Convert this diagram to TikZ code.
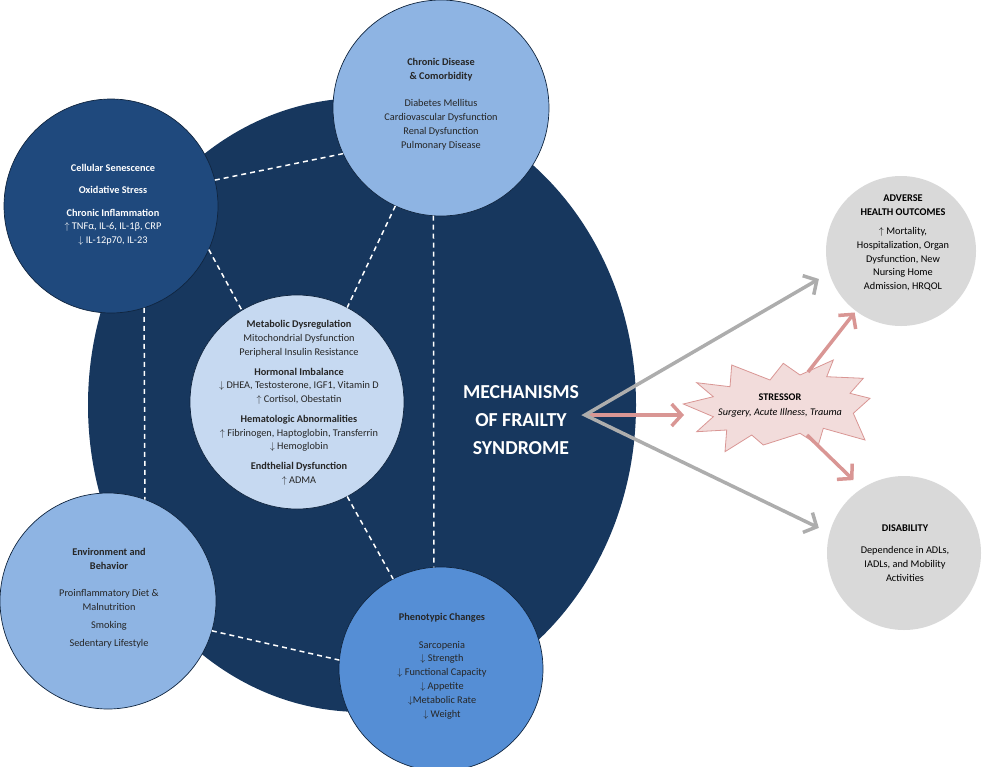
\documentclass[tikz,border=0pt]{standalone}
\usepackage{fontspec}
\setmainfont{Carlito}
\usetikzlibrary{arrows.meta}
\definecolor{bigblue}{HTML}{17375E}
\definecolor{deepblue}{HTML}{1F497D}
\definecolor{lightblue}{HTML}{8EB4E3}
\definecolor{paleblue}{HTML}{C6D9F1}
\definecolor{midblue}{HTML}{558ED5}
\definecolor{outgray}{HTML}{D9D9D9}
\definecolor{arrgray}{HTML}{ADADAD}
\definecolor{arrpink}{HTML}{D99694}
\definecolor{starfill}{HTML}{F2DCDB}
\definecolor{txtdark}{HTML}{262626}
\definecolor{rimblue}{HTML}{10253F}
\newcommand{\UA}{$\uparrow$\ }
\newcommand{\DA}{$\downarrow$\ }
\begin{document}
\begin{tikzpicture}[x=1pt,y=-1pt,
  bub/.style={circle,draw=rimblue,line width=0.7pt,inner sep=0pt,outer sep=0pt},
  txt/.style={align=center,inner sep=0pt,text=txtdark,font=\fontsize{10.3}{13.8}\selectfont},
  dashl/.style={draw=white,line width=1.5pt,dash pattern=on 5pt off 4pt},
  barbs/.style={line width=3.5pt,-{Straight Barb[length=10pt,width=22pt]}},
]
\useasboundingbox (0,0) rectangle (982,766);
% big ellipse
\fill[bigblue] (362,405) ellipse [x radius=274pt, y radius=307pt];
% circles
\node[bub,fill=deepblue,minimum size=214pt] (tl) at (111,206) {};
\node[bub,fill=lightblue,minimum size=216pt] (top) at (441,108) {};
\node[bub,fill=paleblue,minimum size=214pt] (cen) at (297,402) {};
\node[bub,fill=lightblue,minimum size=216pt] (bl) at (108,601) {};
\node[bub,fill=midblue,minimum size=204pt] (bot) at (441,669) {};
\node[circle,fill=outgray,inner sep=0pt,outer sep=0pt,minimum size=150pt] (adv) at (901,251) {};
\node[circle,fill=outgray,inner sep=0pt,outer sep=0pt,minimum size=154pt] (dis) at (904,553) {};
% dashed links
\draw[dashl] (tl.14) -- (top.-155);
\draw[dashl] (top.-115) -- (cen.62);
\draw[dashl] (tl.-24) -- (cen.121);
\draw[dashl] (top.-94) -- (bot.94);
\draw[dashl] (tl.-72) -- (bl.70);
\draw[dashl] (cen.-62) -- (bot.118);
\draw[dashl] (bl.-16) -- (bot.175);
% texts
\node[txt,text=white] (tlt) at (113,205) {\textbf{Cellular Senescence}\\[8.5pt]
  \textbf{Oxidative Stress}\\[8.5pt]
  \textbf{Chronic Inflammation}\\
  \UA TNFα, IL-6, IL-1β, CRP\\
  \DA IL-12p70, IL-23};
\node[txt] (topt) at (441,104) {\textbf{Chronic Disease}\\
  \textbf{\& Comorbidity}\\[13.8pt]
  Diabetes Mellitus\\Cardiovascular Dysfunction\\Renal Dysfunction\\Pulmonary Disease};
\node[txt,font=\fontsize{10.3}{13.6}\selectfont] (cent) at (299,403) {\textbf{Metabolic Dysregulation}\\
  Mitochondrial Dysfunction\\Peripheral Insulin Resistance\\[6.5pt]
  \textbf{Hormonal Imbalance}\\
  \DA DHEA, Testosterone, IGF1, Vitamin D\\
  \UA Cortisol, Obestatin\\[6.5pt]
  \textbf{Hematologic Abnormalities}\\
  \UA Fibrinogen, Haptoglobin, Transferrin\\
  \DA Hemoglobin\\[6.5pt]
  \textbf{Endthelial Dysfunction}\\
  \UA ADMA};
\node[txt] (blt) at (109,598) {\textbf{Environment and}\\
  \textbf{Behavior}\\[14pt]
  Proinflammatory Diet \&\\Malnutrition\\[4pt]
  Smoking\\[4pt]
  Sedentary Lifestyle};
\node[txt] (bott) at (442,666) {\textbf{Phenotypic Changes}\\[14pt]
  Sarcopenia\\
  \DA Strength\\
  \DA Functional Capacity\\
  \DA Appetite\\
  $\downarrow$Metabolic Rate\\
  \DA Weight};
\node[txt,text=black] (advt) at (903,243) {\textbf{ADVERSE}\\
  \textbf{HEALTH OUTCOMES}\\[5pt]
  \UA Mortality,\\Hospitalization, Organ\\Dysfunction, New\\Nursing Home\\Admission, HRQOL};
\node[txt,text=black] (dist) at (905,553) {\textbf{DISABILITY}\\[8pt]
  Dependence in ADLs,\\IADLs, and Mobility\\Activities};
\node[align=center,inner sep=0pt,text=white,font=\fontsize{19.8}{28}\selectfont\bfseries] (mech) at (521,420)
  {MECHANISMS\\OF FRAILTY\\SYNDROME};
% stressor burst
\draw[draw=arrpink,fill=starfill,line width=0.8pt]
  (683.3,404) -- (713.3,396.7) -- (696.7,382.7) -- (730,386.7) -- (731.7,365) --
  (770,380) -- (783.3,363.3) -- (800,375) -- (833.3,360) -- (826.7,376.7) --
  (863.3,378.3) -- (850,393.3) -- (870,398.3) -- (853.3,413.3) -- (865,440) --
  (823.3,428.3) -- (818.3,445) -- (800,433.3) -- (763.3,445) -- (751.7,435) --
  (725,451.7) -- (726.7,430) -- (696.7,431.7) -- (713.3,416.7) -- cycle;
\node[txt,text=black,font=\fontsize{10.2}{15}\selectfont] (stt) at (780,406)
  {\textbf{STRESSOR}\\\textit{Surgery, Acute Illness, Trauma}};
% arrows
\coordinate (o) at (585,415);
\coordinate (sin) at (684,415);
\coordinate (su) at (808,372);
\coordinate (sd) at (807,435);
\draw[barbs,draw=arrpink] (o) -- (sin);
\draw[draw=arrgray,line width=3.5pt,line join=miter,
  {Straight Barb[length=10pt,width=22pt]}-{Straight Barb[length=10pt,width=22pt]},
  shorten <=12pt, shorten >=12pt] (adv.197) -- (o) -- (dis.165);
\draw[barbs,draw=arrpink,shorten >=2pt] (su) -- (adv.233);
\draw[barbs,draw=arrpink,shorten >=12pt] (sd) -- (dis.123);
\end{tikzpicture}
\end{document}
